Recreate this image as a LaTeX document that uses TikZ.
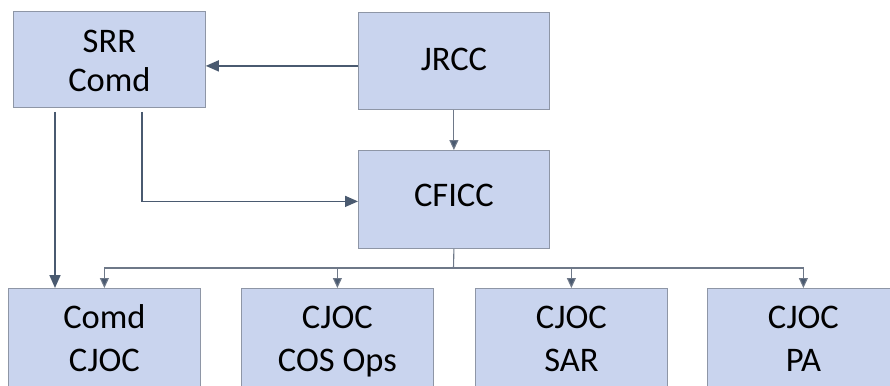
\documentclass[tikz,border=0pt]{standalone}
\usepackage{fontspec}
\setmainfont{Carlito}
\usetikzlibrary{arrows.meta}
\definecolor{boxfill}{HTML}{C9D4EE}
\definecolor{boxline}{HTML}{8E96A6}
\definecolor{arrcol}{HTML}{4A5A70}
\definecolor{buscol}{HTML}{6E7888}
\tikzset{
  box/.style={draw=boxline, line width=0.8pt, fill=boxfill, anchor=north west,
    inner sep=0pt},
  toplbl/.style={inner sep=0pt, align=center, text=black, font=\fontsize{34.5}{39}\selectfont},
  botlbl/.style={inner sep=0pt, align=center, text=black, font=\fontsize{34.5}{43}\selectfont},
  mainarr/.style={draw=arrcol, line width=1.6pt, -{Triangle[length=13pt,width=11pt]}},
  busline/.style={draw=buscol, line width=1.1pt},
  busarr/.style={draw=buscol, line width=1.1pt, -{Triangle[length=10pt,width=9pt,fill=arrcol]}}
}
\begin{document}
\begin{tikzpicture}[x=1pt,y=-1pt]
\useasboundingbox (0,0) rectangle (890,385);
\clip (0,0) rectangle (890,385);
\fill[white] (0,0) rectangle (890,385);
% boxes
\node[box, minimum width=192pt, minimum height=96pt] (srr) at (13,11) {};
\node[box, minimum width=191pt, minimum height=97pt] (jrcc) at (358,12) {};
\node[box, minimum width=191pt, minimum height=98pt] (cficc) at (358,150) {};
\node[box, minimum width=192pt, minimum height=104pt] (b1) at (8,288) {};
\node[box, minimum width=192pt, minimum height=104pt] (b2) at (241,288) {};
\node[box, minimum width=192pt, minimum height=104pt] (b3) at (475,288) {};
\node[box, minimum width=192pt, minimum height=104pt] (b4) at (707,288) {};
% labels
\node[toplbl] (srrT) at (srr.center |- 0,64.7) {\strut SRR\\\strut Comd};
\node[toplbl] (jrccT) at (jrcc.center |- 0,63) {\strut JRCC};
\node[toplbl] (cficcT) at (cficc.center |- 0,199) {\strut CFICC};
\node[botlbl] (b1T) at (b1.center |- 0,341) {\strut Comd\\\strut CJOC};
\node[botlbl] (b2T) at (b2.center |- 0,341) {\strut CJOC\\\strut COS Ops};
\node[botlbl] (b3T) at (b3.center |- 0,341) {\strut CJOC\\\strut SAR};
\node[botlbl] (b4T) at (b4.center |- 0,341) {\strut CJOC\\\strut PA};
\coordinate (bus) at (453.5,268);
% connectors
\draw[mainarr] ([yshift=-5pt]jrcc.west) -- ([yshift=-5pt]jrcc.west -| srr.east);
\draw[mainarr] ([xshift=42pt,yshift=-4pt]srr.south west) -- ([xshift=47pt]b1.north west);
\draw[mainarr] ([xshift=129pt,yshift=-4pt]srr.south west) |- ([yshift=-2pt]cficc.west);
\draw[busarr] (jrcc.south) -- (cficc.north);
\draw[busline] (cficc.south) -- (bus);
\draw[busarr] (bus) -| (b1.north);
\draw[busarr] (bus) -| (b2.north);
\draw[busarr] (bus) -| (b3.north);
\draw[busarr] (bus) -| (b4.north);
\end{tikzpicture}
\end{document}
